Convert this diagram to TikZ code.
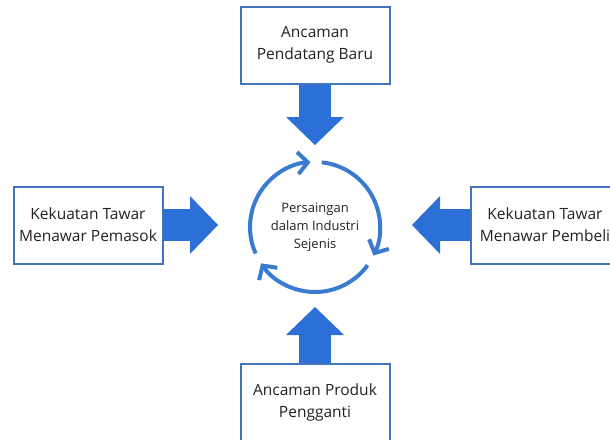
\documentclass[tikz,border=0pt]{standalone}
\usepackage{fontspec}
\setmainfont{Open Sans}
\usepackage{tikz}
\usetikzlibrary{arrows.meta,positioning}

\definecolor{boxblue}{HTML}{4274BE}
\definecolor{arrowblue}{HTML}{2C6FD6}
\definecolor{cycblue}{HTML}{3A7BCF}
\definecolor{textgray}{HTML}{222222}

\begin{document}
\begin{tikzpicture}[%
on grid,
force/.style={draw=boxblue, line width=2pt, fill=white, text=textgray,
  minimum width=149pt, minimum height=77pt, align=center,
  font=\fontsize{15.5}{22}\selectfont},
blockarrow/.style={draw=arrowblue, line width=32pt,
  -{Triangle[length=28pt,width=58pt,line width=0pt,fill=arrowblue]}},
cyc/.style={draw=cycblue, line width=4pt,
  -{Straight Barb[length=10pt,width=22pt]}}
]

\clip (0,0) rectangle (610pt,-439pt);

\node[circle, minimum size=130pt, outer sep=0pt, align=center, text=textgray,
  font=\fontsize{13}{18}\selectfont] (persaingan) at (315pt,-227pt)
  {Persaingan\\dalam Industri\\Sejenis};
\node[force] (pendatang) [above=182pt of persaingan] {Ancaman\\Pendatang Baru};
\node[force] (pemasok) [left=227pt of persaingan, yshift=2pt] {Kekuatan Tawar\\Menawar Pemasok};
\node[force] (pembeli) [right=230pt of persaingan, yshift=2pt] {Kekuatan Tawar\\Menawar Pembeli};
\node[force] (pengganti) [below=175pt of persaingan] {Ancaman Produk\\Pengganti};

\path[blockarrow] (pendatang) edge[shorten >=17pt] (persaingan);
\path[blockarrow] (pemasok) edge[shorten >=32pt] (pemasok -| persaingan.west);
\path[blockarrow] (pembeli) edge[shorten >=32pt] (pembeli -| persaingan.east);
\path[blockarrow] (pengganti) edge[shorten >=15pt] (persaingan);

% siklus persaingan
\foreach \a in {84,324,204}
  \draw[cyc] (persaingan.\a) arc[start angle=\a, delta angle=-110, radius=65pt];

\end{tikzpicture}
\end{document}
